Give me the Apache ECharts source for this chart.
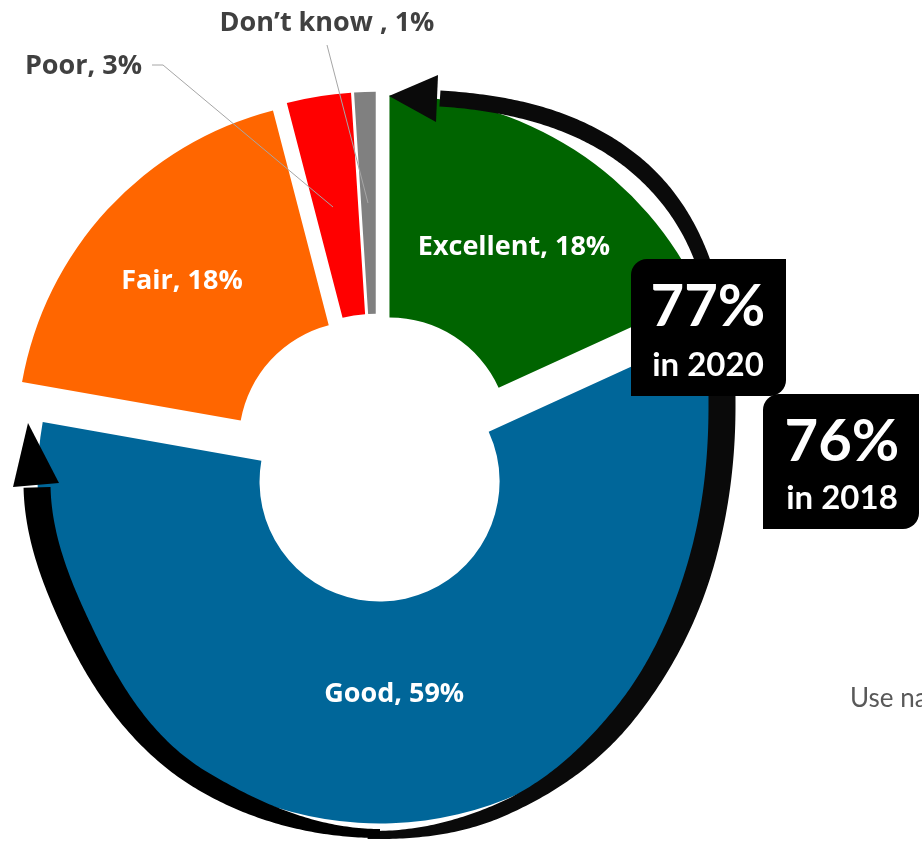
<!DOCTYPE html>
<html>
<head>
<meta charset="utf-8">
<script src="https://cdn.jsdelivr.net/npm/echarts@6/dist/echarts.min.js"></script>
<style>
  html, body { margin: 0; padding: 0; background: #ffffff; }
  #chart { width: 922px; height: 844px; }
</style>
</head>
<body>
<div id="chart"></div>
<script>
// Self-rated health, share of respondents (%)
const categories = ['Excellent', 'Good', 'Fair', 'Poor', 'Don\u2019t know '];
const shares = [18, 59, 18, 3, 1];
const sliceColors = ['#006400', '#006699', '#FF6600', '#FF0000', '#808080'];

// Combined "excellent + good" callouts
const calloutValues = ['77%', '76%'];
const calloutYears = ['in 2020', 'in 2018'];

const LABEL_FONT = '"Open Sans"';
const BOX_FONT = 'Lato';
const chart = echarts.init(document.getElementById('chart'), null, { renderer: 'canvas' });

const labelText = i => categories[i] + ', ' + shares[i] + '%';

// --- curved arrow helpers -------------------------------------------------
const smooth = t => t * t * (3 - 2 * t);
// piecewise value with smooth transitions between keyframes [param, value]
function keyed(keys, p) {
  if (p <= keys[0][0]) return keys[0][1];
  for (let k = 0; k < keys.length - 1; k++) {
    const a = keys[k], b = keys[k + 1];
    if (p <= b[0]) return a[1] + (b[1] - a[1]) * smooth((p - a[0]) / (b[0] - a[0]));
  }
  return keys[keys.length - 1][1];
}
function bandPolygon(pts) {
  const left = [], right = [];
  for (let i = 0; i < pts.length; i++) {
    const a = pts[Math.max(i - 1, 0)], b = pts[Math.min(i + 1, pts.length - 1)];
    let tx = b[0] - a[0], ty = b[1] - a[1];
    const len = Math.hypot(tx, ty) || 1;
    tx /= len; ty /= len;
    const h = pts[i][2] / 2;
    left.push([pts[i][0] - ty * h, pts[i][1] + tx * h]);
    right.push([pts[i][0] + ty * h, pts[i][1] - tx * h]);
  }
  return left.concat(right.reverse());
}
const spow = (v, e) => Math.sign(v) * Math.pow(Math.abs(v), e);
const rad = d => d * Math.PI / 180;

// Right arrow: rounded (superellipse) path from the bottom, up the right side, over the top
function rightArrowPath() {
  const cx = 375, cy = 405, a = 347, bLow = 430, bTop = 308;
  const lowW = [[-1, 8], [20, 14], [45, 22], [70, 26], [90, 27]];
  const topW = [[0, 27], [22, 15], [45, 17], [65, 17], [84, 16]];
  const pts = [];
  for (let f = -1; f < 90; f += 0.5) {
    const e = 2 / 2.1;
    pts.push([cx + a * spow(Math.sin(rad(f)), e), cy + bLow * spow(Math.cos(rad(f)), e), keyed(lowW, f)]);
  }
  for (let s = 0; s <= 83.9; s += 0.5) {
    const e = 2 / 2.6;
    pts.push([cx + a * spow(Math.cos(rad(s)), e), cy - bTop * spow(Math.sin(rad(s)), e), keyed(topW, s)]);
  }
  return pts;
}
const rightArrowHead = [[389, 96], [438, 75], [436, 122]];

// Left arrow: follows the outside of the ring up to the left
function leftArrowPath() {
  const cx = 380, cy = 481.5;
  const rKeys = [[180, 352], [211, 348], [245, 336], [269.3, 343]];
  const wKeys = [[180, 9], [211, 20], [245, 27], [269.3, 27]];
  const pts = [];
  for (let th = 180; th <= 269.3; th += 0.5) {
    const r = keyed(rKeys, th);
    pts.push([cx + r * Math.sin(rad(th)), cy - r * Math.cos(rad(th)), keyed(wKeys, th)]);
  }
  return pts;
}
const leftArrowHead = [[28, 423], [13, 487], [59, 483]];

// leader lines for the two thin slices
const poorLeader = [[333, 207], [163, 65], [152, 65]];
const dkLeader = [[368, 203], [327, 45]];

const arrowFill = '#0a0a0a';
const graphics = [
  { type: 'polygon', z: 10, shape: { points: bandPolygon(rightArrowPath()) }, style: { fill: arrowFill } },
  { type: 'polygon', z: 10, shape: { points: rightArrowHead }, style: { fill: arrowFill } },
  { type: 'polygon', z: 10, shape: { points: bandPolygon(leftArrowPath()) }, style: { fill: '#000' } },
  { type: 'polygon', z: 10, shape: { points: leftArrowHead }, style: { fill: '#000' } },

  // outside labels with leader lines
  { type: 'polyline', z: 6, shape: { points: poorLeader }, style: { stroke: '#A6A6A6', lineWidth: 1, fill: null } },
  { type: 'polyline', z: 6, shape: { points: dkLeader }, style: { stroke: '#A6A6A6', lineWidth: 1, fill: null } },
  { type: 'text', z: 6, style: { text: labelText(3), x: 142, y: 66, align: 'right', verticalAlign: 'middle', fill: '#404040', font: 'bold 27px ' + LABEL_FONT } },
  { type: 'text', z: 6, style: { text: labelText(4), x: 327, y: 23, align: 'center', verticalAlign: 'middle', fill: '#404040', font: 'bold 27px ' + LABEL_FONT } },

  // callout boxes
  { type: 'rect', z: 20, shape: { x: 631, y: 259, width: 155, height: 137, r: [16, 0, 16, 0] }, style: { fill: '#000' } },
  { type: 'text', z: 21, style: { text: calloutValues[0], x: 708, y: 307, align: 'center', verticalAlign: 'middle', fill: '#fff', font: 'bold 58px ' + BOX_FONT } },
  { type: 'text', z: 21, style: { text: calloutYears[0], x: 708, y: 365, align: 'center', verticalAlign: 'middle', fill: '#fff', font: 'bold 33px ' + BOX_FONT } },
  { type: 'rect', z: 20, shape: { x: 763, y: 394, width: 156, height: 135, r: [16, 0, 16, 0] }, style: { fill: '#000' } },
  { type: 'text', z: 21, style: { text: calloutValues[1], x: 842, y: 442, align: 'center', verticalAlign: 'middle', fill: '#fff', font: 'bold 58px ' + BOX_FONT } },
  { type: 'text', z: 21, style: { text: calloutYears[1], x: 842, y: 498, align: 'center', verticalAlign: 'middle', fill: '#fff', font: 'bold 33px ' + BOX_FONT } },

  // note running off the right edge
  { type: 'text', z: 5, style: { text: 'Use na', x: 850, y: 699, align: 'left', verticalAlign: 'middle', fill: '#595959', font: '26px ' + BOX_FONT } }
];

const insideIdx = [0, 1, 2];
const pieData = categories.map((name, i) => ({
  name: name,
  value: shares[i],
  selected: true,
  itemStyle: { color: sliceColors[i] },
  label: { show: insideIdx.indexOf(i) >= 0 }
}));

// small nudges of the in-slice labels
const labelNudge = [[-2, 7], [-15, -19], [-5, -1], [0, 0], [0, 0]];

chart.setOption({
  animation: false,
  backgroundColor: '#ffffff',
  series: [{
    type: 'pie',
    center: [376.5, 457.7],
    radius: [120, 342],
    startAngle: 90,
    clockwise: true,
    selectedMode: 'multiple',
    selectedOffset: 24,
    avoidLabelOverlap: false,
    itemStyle: { borderWidth: 0 },
    select: { itemStyle: { borderWidth: 0 } },
    emphasis: { disabled: true },
    label: {
      show: true,
      position: 'inside',
      formatter: '{b}, {c}%',
      color: '#ffffff',
      fontFamily: LABEL_FONT,
      fontWeight: 'bold',
      fontSize: 27
    },
    labelLine: { show: false },
    labelLayout: function (p) {
      const n = labelNudge[p.dataIndex];
      return { dx: n[0], dy: n[1] };
    },
    data: pieData
  }],
  graphic: { elements: graphics }
});
</script>
</body>
</html>
